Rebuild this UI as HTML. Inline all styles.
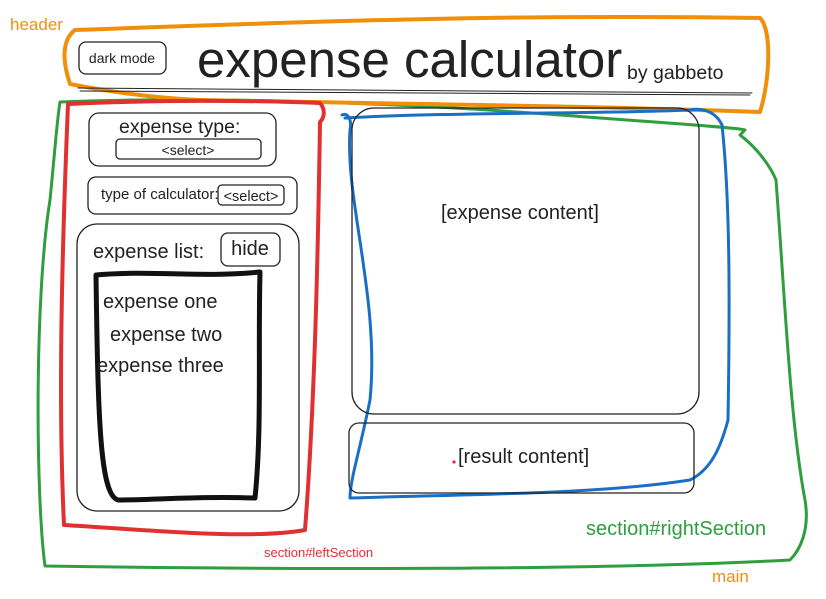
<!DOCTYPE html>
<html><head><meta charset="utf-8"><style>
html,body{margin:0;padding:0;background:#fff;}
svg{display:block;font-family:"Liberation Sans",sans-serif;}
</style></head><body>
<svg width="826" height="599" viewBox="0 0 826 599" xmlns="http://www.w3.org/2000/svg">
<g fill="none" stroke-linecap="round" stroke-linejoin="round">
<!-- green main -->
<path d="M60,102 C200,96 400,102 600,118 C680,124 740,128 745,130 L740,135 C760,150 772,170 776,180 C785,300 790,420 805,500 C810,530 800,550 790,560 C600,570 300,570 45,566 C36,500 34,300 50,200 C55,150 57,120 60,102" stroke="#2e9e3e" stroke-width="3"/>
<!-- orange header -->
<path d="M75,30 C300,22 500,14 760,18 C772,30 770,80 760,112 C600,106 400,104 200,100 C150,98 100,90 70,84 C62,60 62,40 75,30" stroke="#f0900a" stroke-width="4"/>
<!-- red left -->
<path d="M68,104 C150,100 250,100 320,103 C326,110 324,118 320,122 C318,250 315,400 305,530 C250,540 150,530 64,525 C58,400 62,250 68,104" stroke="#e03030" stroke-width="4"/>
<!-- blue right -->
<path d="M342,115 C348,112 352,120 350,130 C345,200 380,300 370,400 C360,450 350,480 350,498 C480,494 600,494 690,480 C710,470 720,450 728,420 C730,300 730,200 722,125 C715,110 700,108 690,110 C600,114 450,112 345,118" stroke="#1a6fc4" stroke-width="3"/>
<!-- header line -->
<path d="M78,88 L752,93 M80,91 L750,95" stroke="#222" stroke-width="1"/>
<g stroke="#222" stroke-width="1.3">
<rect x="79" y="42" width="87" height="32" rx="7"/>
<rect x="89" y="113" width="187" height="53" rx="10"/>
<rect x="116" y="139" width="145" height="20" rx="4"/>
<rect x="88" y="177" width="209" height="37" rx="8"/>
<rect x="218" y="185" width="66" height="20" rx="4"/>
<rect x="77" y="224" width="222" height="287" rx="20"/>
<rect x="221" y="233" width="59" height="33" rx="7"/>
<rect x="352" y="108" width="347" height="306" rx="22"/>
<rect x="349" y="423" width="345" height="70" rx="10"/>
</g>
<path d="M96,275 C150,270 200,278 260,272 C258,350 262,430 255,498 C200,496 150,500 118,500 C100,495 98,420 96,275" stroke="#111" stroke-width="5"/>
</g>
<g font-size="20" fill="#222">
<text x="10" y="30" fill="#f0900a" font-size="17">header</text>
<text x="122" y="63" font-size="14" text-anchor="middle">dark mode</text>
<text x="197" y="77" font-size="51">expense calculator</text>
<text x="627" y="79" font-size="19.5">by gabbeto</text>
<text x="119" y="133" font-size="19.5">expense type:</text>
<text x="188" y="155" font-size="14" text-anchor="middle">&lt;select&gt;</text>
<text x="101" y="199" font-size="15">type of calculator:</text>
<text x="251" y="201" font-size="14.5" text-anchor="middle">&lt;select&gt;</text>
<text x="93" y="258">expense list:</text>
<text x="250" y="255" text-anchor="middle">hide</text>
<text x="103" y="308">expense one</text>
<text x="110" y="341">expense two</text>
<text x="97" y="372">expense three</text>
<text x="441" y="219">[expense content]</text>
<text x="458" y="463">[result content]</text>
<circle cx="454" cy="462" r="1.6" fill="#e03030"/>
<text x="586" y="535" fill="#2e9e3e">section#rightSection</text>
<text x="264" y="557" fill="#e03030" font-size="13">section#leftSection</text>
<text x="712" y="582" fill="#f0900a" font-size="17">main</text>
</g>
</svg>
</body></html>
